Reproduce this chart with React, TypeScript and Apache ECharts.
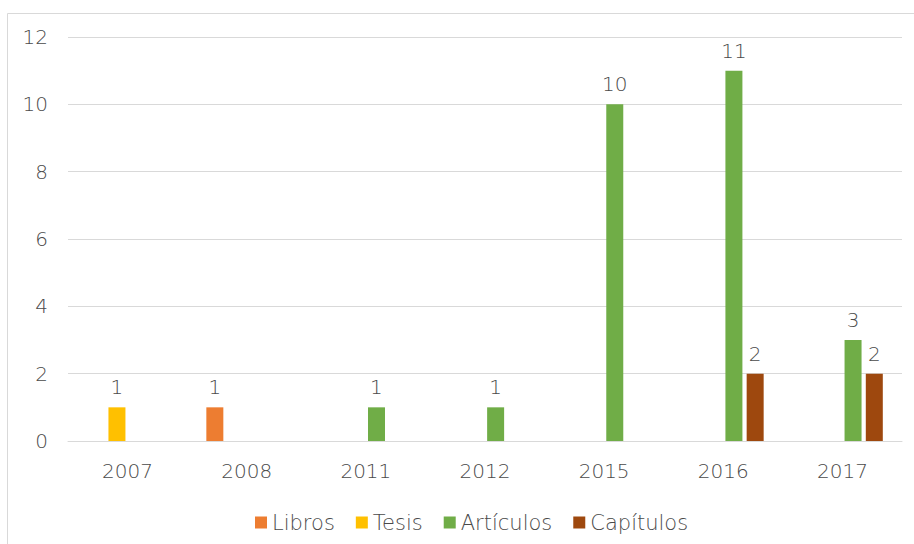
import React, { useEffect, useRef } from "react";
import * as echarts from "echarts";

const categories = ["2007", "2008", "2011", "2012", "2015", "2016", "2017"];
const libros = [null, 1, null, null, null, null, null];
const tesis = [1, null, null, null, null, null, null];
const articulos = [null, null, 1, 1, 10, 11, 3];
const capitulos = [null, null, null, null, null, 2, 2];
const seriesNames = ["Libros", "Tesis", "Artículos", "Capítulos"];
const seriesColors = ["#ED7D31", "#FFC000", "#70AD47", "#9E480E"];

const FONT = "'DejaVu Sans', sans-serif";
const WEIGHT = 200;
const TXT = "#4a4a4a";

export default function App() {
  const ref = useRef<HTMLDivElement>(null);
  useEffect(() => {
    if (!ref.current) return;
    const chart = echarts.init(ref.current, null, { renderer: "svg" });
    const data = [libros, tesis, articulos, capitulos];
    chart.setOption({
      animation: false,
      backgroundColor: "#ffffff",
      textStyle: { fontFamily: FONT, fontWeight: WEIGHT },
      graphic: [
        {
          type: "rect",
          shape: { x: 7.5, y: 13.5, width: 930, height: 560 },
          style: { fill: "none", stroke: "#d9d9d9", lineWidth: 1 },
          silent: true,
        },
      ],
      grid: { left: 68, right: 12, top: 37, bottom: 103, containLabel: false },
      legend: {
        left: 250,
        top: 507,
        itemWidth: 12,
        itemHeight: 12,
        itemGap: 21,
        icon: "rect",
        textStyle: { color: TXT, fontSize: 21, fontFamily: FONT, fontWeight: WEIGHT },
        data: seriesNames,
      },
      xAxis: {
        type: "category",
        data: categories,
        axisLine: { show: true, lineStyle: { color: "#d9d9d9", width: 1 } },
        axisTick: { show: false },
        axisLabel: { color: TXT, fontSize: 20, fontFamily: FONT, fontWeight: WEIGHT, margin: 20 },
      },
      yAxis: {
        type: "value",
        min: 0,
        max: 12,
        interval: 2,
        axisLine: { show: false },
        axisTick: { show: false },
        splitLine: { lineStyle: { color: "#d9d9d9", width: 1 } },
        axisLabel: { color: TXT, fontSize: 20, fontFamily: FONT, fontWeight: WEIGHT, margin: 20 },
      },
      series: seriesNames.map((name, i) => ({
        name,
        type: "bar",
        data: data[i],
        barWidth: 17,
        barGap: "25%",
        itemStyle: { color: seriesColors[i] },
        label: {
          show: true,
          position: "top",
          distance: 10,
          color: TXT,
          fontSize: 20,
          fontFamily: FONT,
          fontWeight: WEIGHT,
        },
      })),
    });
    return () => chart.dispose();
  }, []);
  return (
    <div
      ref={ref}
      style={{ position: "absolute", left: 0, top: 0, width: 914, height: 544 }}
    />
  );
}
